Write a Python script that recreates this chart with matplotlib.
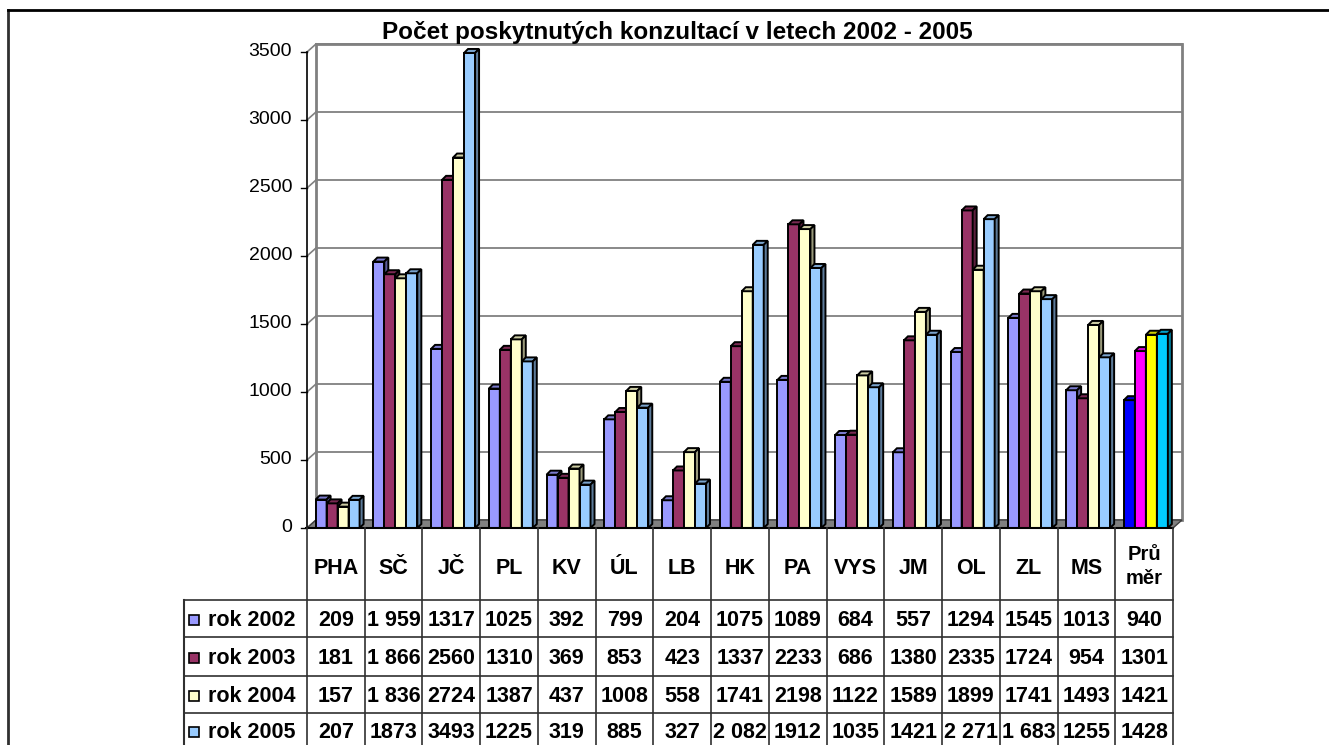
import numpy as np
import matplotlib
matplotlib.use("Agg")
import matplotlib.pyplot as plt
from matplotlib.patches import Rectangle

plt.rcParams['font.family'] = ['Liberation Sans', 'DejaVu Sans']

# ---- data ----
categories = ["PHA", "SČ", "JČ", "PL", "KV", "ÚL", "LB", "HK", "PA", "VYS",
              "JM", "OL", "ZL", "MS", "Prů\nměr"]
series_names = ["rok 2002", "rok 2003", "rok 2004", "rok 2005"]
rok2002 = [209, 1959, 1317, 1025, 392, 799, 204, 1075, 1089, 684, 557, 1294, 1545, 1013, 940]
rok2003 = [181, 1866, 2560, 1310, 369, 853, 423, 1337, 2233, 686, 1380, 2335, 1724, 954, 1301]
rok2004 = [157, 1836, 2724, 1387, 437, 1008, 558, 1741, 2198, 1122, 1589, 1899, 1741, 1493, 1421]
rok2005 = [207, 1873, 3493, 1225, 319, 885, 327, 2082, 1912, 1035, 1421, 2271, 1683, 1255, 1428]
series_colors = ["#9999FF", "#993366", "#FFFFCC", "#99CCFF"]
avg_colors = ["#0000FF", "#FF00FF", "#FFFF00", "#00CCFF"]
yticks = [0, 500, 1000, 1500, 2000, 2500, 3000, 3500]
# cells printed with a space as thousands separator in the source table
spaced_cells = [(0, 1), (1, 1), (2, 1), (3, 7), (3, 11), (3, 12)]
title = "Počet poskytnutých konzultací v letech 2002 - 2005"

series = [rok2002, rok2003, rok2004, rok2005]
n = len(categories)

# ---- layout (pixels) ----
W, H = 1329, 745
X0, X1 = 307, 1173     # category band
Y0, Y1 = 528, 52       # value 0 and value 3500
colw = (X1 - X0) / n
TFS = 15.5             # table font size

fig = plt.figure(figsize=(W / 100, H / 100), dpi=100)
ax = fig.add_axes([X0 / W, 1 - Y0 / H, (X1 - X0) / W, (Y0 - Y1) / H])
ax.set_xlim(0, n)
ax.set_ylim(0, 3500)
ax.axis('off')
ax.patch.set_visible(False)

px_x = n / (X1 - X0)
px_y = 3500 / (Y0 - Y1)
DX, DY = 9 * px_x, 8 * px_y        # wall depth
BDX, BDY = 4 * px_x, 4 * px_y      # bar depth
BW = 11 * px_x
grid_c = "#808080"

# back wall + grid
ax.fill([DX, n + DX, n + DX, DX], [DY, DY, 3500 + DY, 3500 + DY],
        facecolor="white", edgecolor=grid_c, lw=2, zorder=0, clip_on=False)
for v in yticks:
    ax.plot([DX, n + DX], [v + DY, v + DY], color=grid_c, lw=1.3, zorder=1, clip_on=False)
    ax.plot([0, DX], [v, v + DY], color=grid_c, lw=1.2, zorder=1, clip_on=False)
    ax.plot([-6 * px_x, 0], [v, v], color="black", lw=1, zorder=2, clip_on=False)
    ax.text(-15 * px_x, v, str(v), ha="right", va="center", fontsize=14)
# floor
ax.fill([0, n, n + DX, DX], [0, 0, DY, DY], facecolor="#808080",
        edgecolor="#404040", lw=1, zorder=2, clip_on=False)
ax.plot([0, 0], [0, 3500], color="black", lw=1.2, zorder=2, clip_on=False)

# bars with a small 3d look
x = np.arange(n)
for j, vals in enumerate(series):
    cols = [series_colors[j]] * (n - 1) + [avg_colors[j]]
    left = x + 0.5 + 0.03 - 2 * BW + j * BW
    ax.bar(left, vals, width=BW, align="edge", color=cols, edgecolor="black",
           lw=1.4, zorder=3 + j, clip_on=False)
    for xl, h, c in zip(left, vals, cols):
        rgb = np.array(matplotlib.colors.to_rgb(c))
        ax.fill([xl, xl + BW, xl + BW + BDX, xl + BDX], [h, h, h + BDY, h + BDY],
                facecolor=rgb * 0.8, edgecolor="black", lw=1.4, zorder=3 + j, clip_on=False)
        ax.fill([xl + BW, xl + BW + BDX, xl + BW + BDX, xl + BW], [0, BDY, h + BDY, h],
                facecolor=rgb * 0.6, edgecolor="black", lw=1.4, zorder=3 + j, clip_on=False)

# ---- table + frame in pixel coordinates ----
pax = fig.add_axes([0, 0, 1, 1])
pax.set_xlim(0, W)
pax.set_ylim(H, 0)
pax.axis('off')
pax.patch.set_visible(False)

line_c = "#303030"
pax.plot([8, 8], [10, H], color="#303030", lw=2)
pax.plot([8, W], [10, 10], color="black", lw=2)
pax.plot([306, X1], [Y0, Y0], color="black", lw=1.5)

row_lines = [600, 637, 676, 713]
row_mid = [620, 658, 696, 732]
for k in range(n + 1):
    xe = X0 + k * colw
    pax.plot([xe, xe], [Y0, H], color=line_c, lw=1.2)
for yl in row_lines:
    pax.plot([184, X1], [yl, yl], color=line_c, lw=1.2)
pax.plot([184, 184], [600, H], color=line_c, lw=1.5)

for i, cat in enumerate(categories):
    cx = X0 + (i + 0.5) * colw
    if "\n" in cat:
        top, bot = cat.split("\n")
        pax.text(cx, 555, top, ha="center", va="center", fontsize=TFS - 1, fontweight="bold")
        pax.text(cx, 579, bot, ha="center", va="center", fontsize=TFS - 1, fontweight="bold")
    else:
        pax.text(cx, 568, cat, ha="center", va="center", fontsize=TFS, fontweight="bold")

for r, (name, vals) in enumerate(zip(series_names, series)):
    ym = row_mid[r]
    pax.add_patch(Rectangle((189, ym - 5), 10, 10, facecolor=series_colors[r],
                            edgecolor="black", lw=1.2))
    pax.text(208, ym, name, ha="left", va="center", fontsize=TFS, fontweight="bold")
    for i, v in enumerate(vals):
        s = str(v)
        if (r, i) in spaced_cells:
            s = f"{v // 1000} {v % 1000:03d}"
        pax.text(X0 + (i + 0.5) * colw, ym, s, ha="center", va="center",
                 fontsize=TFS, fontweight="bold")

fig.text(677 / W, 1 - 33 / H, title, ha="center", va="center",
         fontsize=17.5, fontweight="bold")

fig.savefig("out.png", dpi=100)
